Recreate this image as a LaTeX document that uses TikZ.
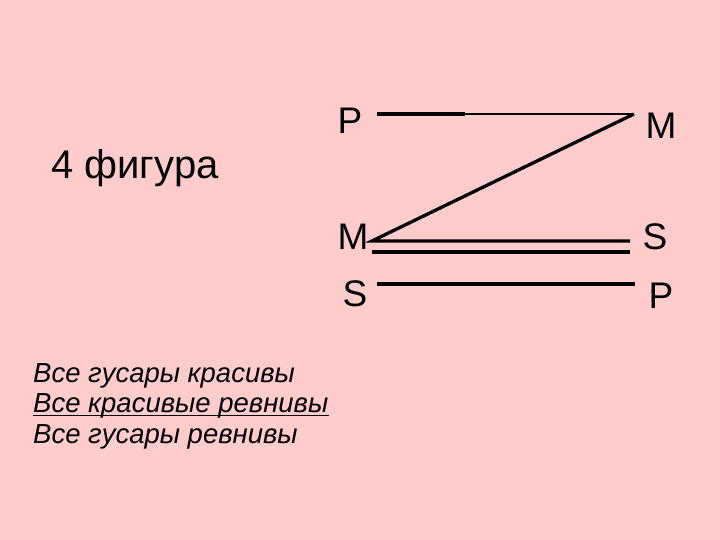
\documentclass[tikz,border=0pt]{standalone}
\usepackage{fontspec}
\setmainfont{Liberation Sans}
\definecolor{bg}{RGB}{255,204,204}
\tikzset{
  lbl/.style={anchor=base, inner sep=0pt, font=\fontsize{37}{44}\selectfont},
  ln/.style={line width=3.3pt, line cap=butt},
  thin/.style={line width=2.2pt},
  txt/.style={anchor=base west, inner sep=0pt, font=\fontsize{27.5}{33}\selectfont\itshape}
}
\begin{document}
\begin{tikzpicture}[x=1pt,y=-1pt]
\fill[bg] (0,0) rectangle (720,540);
\useasboundingbox (0,0) rectangle (720,540);
\node[anchor=base west, inner sep=0pt, font=\fontsize{40}{46}\selectfont] (title) at (51,179) {4 фигура};
\node[lbl] (p1) at (350,134) {P};
\node[lbl] (m1) at (661,139) {M};
\node[lbl] (m2) at (353,249) {M};
\node[lbl] (s1) at (655,249) {S};
\node[lbl] (s2) at (355,306) {S};
\node[lbl] (p2) at (661,308) {P};
\coordinate (a1) at (377,114);
\coordinate (a2) at (465,114);
\coordinate (a3) at (634,114);
\coordinate (b1) at (372,241);
\coordinate (b2) at (630,241);
\coordinate (c1) at (372,252);
\coordinate (c2) at (630,252);
\coordinate (d1) at (377,284);
\coordinate (d2) at (635,284);
\draw[ln] (a1) -- (a2);
\draw[thin] (a2) -- (a3);
\draw[ln, line join=miter] (a3) -- (b1) -- (b2);
\draw[ln] (c1) -- (c2);
\draw[ln] (d1) -- (d2);
\node[txt] (t1) at (33,382) {Все гусары красивы};
\node[txt] (t2) at (33,412) {Все красивые ревнивы};
\node[txt] (t3) at (33,443) {Все гусары ревнивы};
\draw[line width=1.6pt] ([yshift=-3.5pt]t2.base west) -- ([yshift=-3.5pt]t2.base east);
\end{tikzpicture}
\end{document}
